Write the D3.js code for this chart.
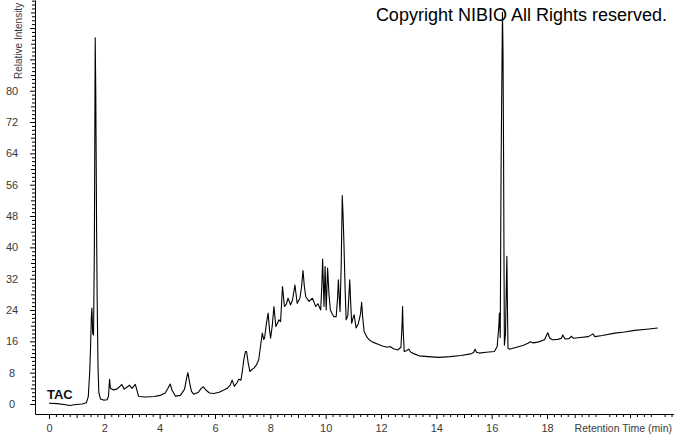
<!DOCTYPE html>
<html><head><meta charset="utf-8">
<script src="https://cdn.jsdelivr.net/npm/d3@7"></script>
<style>html,body{margin:0;padding:0;background:#fff;overflow:hidden}svg{display:block}</style>
</head><body>
<script>
// ---- data ----
const retentionTimes = [
 0.00,0.30,0.60,0.76,0.90,1.20,1.35,1.42,1.47,1.50,1.53,1.55,1.58,1.61,1.64,1.67,1.69,1.70,1.72,1.74,
 1.77,1.80,1.86,1.97,2.10,2.15,2.19,2.22,2.33,2.45,2.55,2.63,2.72,2.80,2.91,3.00,3.12,3.18,3.24,3.50,
 3.80,4.02,4.20,4.30,4.38,4.45,4.57,4.75,4.90,4.97,5.02,5.08,5.15,5.23,5.40,5.50,5.58,5.68,5.80,5.95,
 6.15,6.30,6.44,6.55,6.62,6.70,6.80,6.86,6.94,7.00,7.04,7.10,7.14,7.20,7.26,7.33,7.40,7.50,7.58,7.65,
 7.71,7.76,7.79,7.86,7.92,7.97,8.01,8.07,8.13,8.20,8.25,8.31,8.37,8.44,8.51,8.58,8.64,8.73,8.80,8.89,
 8.97,9.07,9.13,9.18,9.23,9.28,9.40,9.52,9.58,9.64,9.72,9.82,9.86,9.89,9.92,9.94,9.98,10.02,10.07,10.12,
 10.17,10.24,10.30,10.38,10.43,10.46,10.50,10.52,10.56,10.60,10.63,10.66,10.70,10.74,10.80,10.87,10.91,10.94,10.99,11.03,
 11.10,11.18,11.26,11.30,11.34,11.39,11.50,11.57,11.70,11.87,12.05,12.23,12.33,12.45,12.60,12.72,12.76,12.78,12.80,12.84,
 12.92,13.00,13.08,13.20,13.38,13.70,14.10,14.50,14.89,15.25,15.35,15.40,15.45,15.55,15.80,16.10,16.20,16.26,16.28,16.31,
 16.34,16.39,16.41,16.43,16.45,16.46,16.50,16.53,16.55,16.57,16.59,16.64,16.80,17.00,17.15,17.31,17.40,17.50,17.67,17.91,
 17.98,18.03,18.10,18.20,18.39,18.52,18.57,18.65,18.80,18.88,18.95,19.20,19.50,19.66,19.73,20.00,20.45,20.80,21.17,21.60,
 22.00
];
const relativeIntensity = [
 0.2,0.1,-0.2,-0.4,-0.2,0.0,0.3,1.9,8,14,22,24.5,18,17.6,40,93.5,80,68.8,45,27.4,
 10,3,1.3,1.0,1.1,2.0,6.3,4.0,3.6,3.8,4.4,5.0,3.8,4.2,4.8,4.0,5.0,3.5,1.9,1.8,
 1.9,2.2,2.8,4.0,5.1,3.5,2.0,2.2,3.8,6.5,8.0,5.5,3.2,2.5,3.0,4.0,4.4,3.5,2.8,2.7,
 3.0,3.5,4.0,4.8,6.1,4.5,5.5,6.3,6.1,9,11.3,13.4,13.4,10.5,8.3,8.8,9.1,10.0,11.3,15,
 18.1,16.5,16.8,20.6,23.2,19,16.8,20,24.9,19.8,20.5,21.5,21,30.0,24.9,25.5,27.0,25.3,26.5,30.4,
 25.7,27.0,30,34.1,30,27.4,26.2,27,26,24.9,25.6,24.0,30,37.0,30,24.9,35.1,24,34.7,28,
 24.0,23,22.3,22.3,27,31.7,26,23.6,35,53.2,48,41.1,30,21.5,22.5,31.7,25,20.6,22,22.8,
 19.4,20.5,23,26.0,22,18.5,17,16.4,15.8,15.3,14.8,14.5,14.7,14.1,13.8,14.5,20,24.9,19,13.4,
 13.6,14.0,13.2,12.8,12.3,12.1,11.9,12.1,12.4,12.8,13.2,14.0,13.2,13.0,13.2,13.4,14.7,20,23.2,17,
 60,100,90,64,30,15,18,30,37.7,25,14.3,14.0,14.3,14.7,15.0,15.5,15.9,15.6,15.8,16.4,
 17.5,18.2,16.8,16.4,16.5,16.8,17.6,16.6,16.7,17.3,16.8,17.0,17.2,17.9,17.2,17.5,18.1,18.4,18.8,19.1,
 19.4
];
const xTickLabels = [0,2,4,6,8,10,12,14,16,18];
const yTickLabels = [0,8,16,24,32,40,48,56,64,72,80];
const copyrightText = "Copyright NIBIO All Rights reserved.";
const traceLabel = "TAC";
const xAxisTitle = "Retention Time (min)";
const yAxisTitle = "Relative Intensity";

// ---- layout ----
const W = 674, H = 434;
const axisX = 35, axisY = 414;
const xBase = d3.scaleLinear().domain([0, 18]).range([49, 547]);
const yBase = d3.scaleLinear().domain([0, 80]).range([404, 90.7]);
const x = xBase.copy().domain([xBase.invert(axisX), xBase.invert(W)]).range([axisX, W]);
const y = yBase.copy().domain([yBase.invert(axisY), yBase.invert(0)]).range([axisY, 0]);

const svg = d3.select("body").append("svg").attr("width", W).attr("height", H)
  .style("font-family", "'Liberation Sans', Arial, sans-serif");

const labelColor = "#3a3a3a";

// X axis: minor ticks every 0.25, medium every 1, labelled every 2
const xMax = x.domain()[1];
const xMinor = d3.range(0, xMax, 0.25).filter(v => Math.abs(v - Math.round(v)) > 1e-6);
const xMid = d3.range(1, xMax, 2);
svg.append("g").attr("transform", `translate(0,${axisY})`)
  .call(d3.axisBottom(x).tickValues(xMinor).tickSize(3).tickSizeOuter(0).tickFormat(""))
  .call(g => g.selectAll("line,path").attr("stroke", "#000"));
svg.append("g").attr("transform", `translate(0,${axisY})`)
  .call(d3.axisBottom(x).tickValues(xMid).tickSize(4).tickSizeOuter(0).tickFormat(""))
  .call(g => g.select(".domain").remove())
  .call(g => g.selectAll("line").attr("stroke", "#000"));
svg.append("g").attr("transform", `translate(0,${axisY})`)
  .call(d3.axisBottom(x).tickValues(xTickLabels).tickSize(5).tickSizeOuter(0).tickPadding(5))
  .call(g => g.select(".domain").remove())
  .call(g => g.selectAll("line").attr("stroke", "#000"))
  .call(g => g.selectAll("text").attr("fill", labelColor).attr("font-size", 11)
      .attr("font-family", "'Liberation Sans', Arial, sans-serif"));

// Y axis: minor every 1, medium every 4, labelled every 8
const yMax = y.domain()[1];
const yMinor = d3.range(0, yMax, 1).filter(v => v % 4 !== 0);
const yMid = d3.range(4, yMax, 8);
const yMajor = d3.range(0, yMax, 8);
svg.append("g").attr("transform", `translate(${axisX},0)`)
  .call(d3.axisLeft(y).tickValues(yMinor).tickSize(3).tickSizeOuter(0).tickFormat(""))
  .call(g => g.selectAll("line,path").attr("stroke", "#000"));
svg.append("g").attr("transform", `translate(${axisX},0)`)
  .call(d3.axisLeft(y).tickValues(yMid).tickSize(4).tickSizeOuter(0).tickFormat(""))
  .call(g => g.select(".domain").remove())
  .call(g => g.selectAll("line").attr("stroke", "#000"));
svg.append("g").attr("transform", `translate(${axisX},0)`)
  .call(d3.axisLeft(y).tickValues(yMajor).tickSize(5).tickSizeOuter(0)
      .tickFormat(d => yTickLabels.includes(d) ? d : ""))
  .call(g => g.select(".domain").remove())
  .call(g => g.selectAll("line").attr("stroke", "#000"))
  .call(g => g.selectAll("text").attr("fill", labelColor).attr("font-size", 11)
      .attr("text-anchor", "middle").attr("x", 12 - axisX)
      .attr("font-family", "'Liberation Sans', Arial, sans-serif"));

// axis titles
svg.append("text").attr("x", 672).attr("y", 432).attr("text-anchor", "end")
  .attr("font-size", 10.5).attr("fill", labelColor).text(xAxisTitle);
svg.append("text").attr("transform", "translate(22,79) rotate(-90)")
  .attr("text-anchor", "start").attr("font-size", 10).attr("fill", labelColor).text(yAxisTitle);

// trace
const pts = retentionTimes.map((t, i) => [t, relativeIntensity[i]]);
svg.append("path").datum(pts)
  .attr("fill", "none").attr("stroke", "#000").attr("stroke-width", 1.1)
  .attr("stroke-linejoin", "round")
  .attr("d", d3.line().x(d => x(d[0])).y(d => y(d[1])));

// labels
svg.append("text").attr("x", 47).attr("y", 399).attr("font-size", 13).attr("font-weight", "bold")
  .attr("fill", "#111").text(traceLabel);
svg.append("text").attr("x", 667).attr("y", 21).attr("text-anchor", "end")
  .attr("font-size", 18).attr("fill", "#000").text(copyrightText);
</script>
</body></html>
